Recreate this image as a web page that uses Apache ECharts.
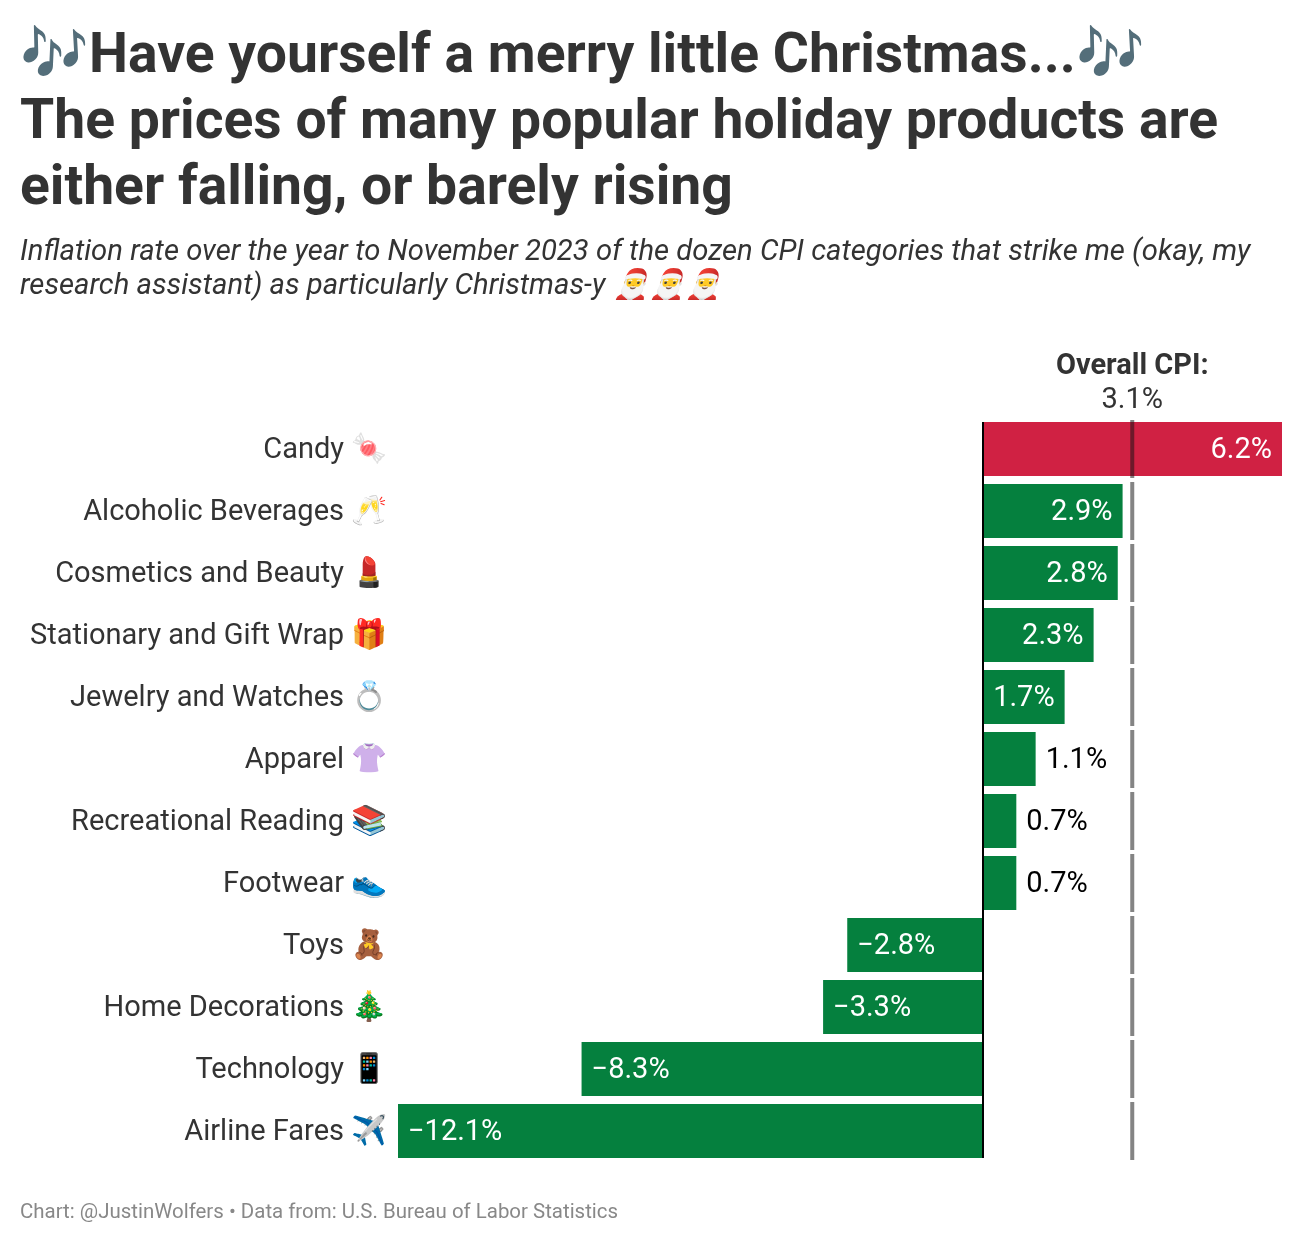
<!DOCTYPE html>
<html>
<head>
<meta charset="utf-8">
<style>
html, body { margin: 0; padding: 0; background: #fff; }
#chart { width: 1304px; height: 1242px; }
</style>
<script src="https://cdn.jsdelivr.net/npm/echarts@6/dist/echarts.min.js"></script>
</head>
<body>
<div id="chart"></div>
<script>
var categories = ['Candy', 'Alcoholic Beverages', 'Cosmetics and Beauty', 'Stationary and Gift Wrap',
	'Jewelry and Watches', 'Apparel', 'Recreational Reading', 'Footwear', 'Toys', 'Home Decorations',
	'Technology', 'Airline Fares'];
var icons = ['🍬', '🥂', '💄', '🎁', '💍', '👚', '📚', '👟', '🧸', '🎄', '📱', '✈️'];
var inflation = [6.2, 2.9, 2.8, 2.3, 1.7, 1.1, 0.7, 0.7, -2.8, -3.3, -8.3, -12.1];
var overallCpi = 3.1;

var FONT = 'Roboto';
var GREEN = '#05803e';
var RED = '#d02143';

function pct(v) {
	return (v < 0 ? '\u2212' : '') + Math.abs(v).toFixed(1) + '%';
}

// short bars carry the label outside, in black
var barData = inflation.map(function(v) {
	var inside = Math.abs(v) >= 1.5;
	return {
		value: v,
		itemStyle: { color: v > overallCpi ? RED : GREEN },
		label: {
			position: inside ? (v < 0 ? 'insideLeft' : 'insideRight') : 'right',
			color: inside ? '#fff' : '#000',
			distance: 10,
			offset: [0, 2]
		}
	};
});

var chart = echarts.init(document.getElementById('chart'), null, { renderer: 'canvas' });

chart.setOption({
	animation: false,
	backgroundColor: '#fff',
	textStyle: { fontFamily: FONT },
	title: [{
		text: '🎶Have yourself a merry little Christmas...🎶\nThe prices of many popular holiday products are\neither falling, or barely rising',
		left: 15, top: 20,
		textStyle: { fontFamily: FONT, fontSize: 55.25, fontWeight: 700, color: '#333', lineHeight: 66 }
	}, {
		text: 'Inflation rate over the year to November 2023 of the dozen CPI categories that strike me (okay, my\nresearch assistant) as particularly Christmas-y 🎅🎅🎅',
		left: 15, top: 231,
		textStyle: { fontFamily: FONT, fontSize: 29.25, fontWeight: 400, fontStyle: 'italic', color: '#333', lineHeight: 34 }
	}, {
		text: 'Chart: @JustinWolfers • Data from: U.S. Bureau of Labor Statistics',
		left: 15, top: 1198,
		textStyle: { fontFamily: FONT, fontSize: 20.45, fontWeight: 400, color: '#888' }
	}],
	grid: { left: 398, right: 22, top: 418, bottom: 80 },
	xAxis: {
		type: 'value',
		min: -12.1,
		max: 6.2,
		show: false,
		splitLine: { show: false }
	},
	yAxis: {
		type: 'category',
		inverse: true,
		data: categories,
		axisLine: { show: false },
		axisTick: { show: false },
		axisLabel: {
			margin: 11,
			padding: [4, 0, 0, 0],
			formatter: function(name, i) {
				return '{t|' + name + '}{e|' + icons[i] + '}';
			},
			rich: {
				t: { fontFamily: FONT, fontSize: 29, color: '#333' },
				e: { fontFamily: FONT, fontSize: 29, color: '#333', width: 43, align: 'right' }
			}
		}
	},
	series: [{
		type: 'bar',
		barWidth: 54,
		data: barData,
		label: {
			show: true,
			fontFamily: FONT,
			fontSize: 29,
			formatter: function(p) { return pct(p.value); }
		}
	}, {
		// zero line, runs only from first bar top to last bar bottom
		type: 'custom',
		z: 4,
		silent: true,
		data: [[0, categories[0], categories[categories.length - 1]]],
		encode: { x: 0, y: 1 },
		renderItem: function(params, api) {
			var top = api.coord([0, 0]);
			var bottom = api.coord([0, categories.length - 1]);
			return {
				type: 'rect',
				shape: { x: Math.ceil(top[0]) - 1, y: top[1] - 27, width: 2, height: bottom[1] - top[1] + 54 },
				style: { fill: '#000' }
			};
		}
	}, {
		// overall CPI marker, one dash per row
		type: 'scatter',
		z: 5,
		silent: true,
		symbol: 'rect',
		symbolSize: [4, 58],
		itemStyle: { color: 'rgba(20,20,20,0.52)', opacity: 1 },
		data: categories.map(function(c, i) {
			return i === 0 ? {
				value: [overallCpi, c],
				label: {
					show: true,
					position: 'top',
					distance: 2,
					formatter: '{b|Overall CPI:}\n{v|' + pct(overallCpi) + '}',
					rich: {
						b: { fontFamily: FONT, fontSize: 29, fontWeight: 700, color: '#333', lineHeight: 34, align: 'center' },
						v: { fontFamily: FONT, fontSize: 29, color: '#333', lineHeight: 34, align: 'center' }
					}
				}
			} : { value: [overallCpi, c] };
		})
	}]
});
</script>
</body>
</html>
